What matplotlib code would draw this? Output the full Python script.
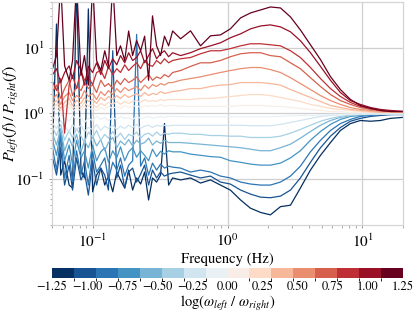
import matplotlib
matplotlib.use("Agg")
import matplotlib.pyplot as plt
import numpy as np
from matplotlib.colors import BoundaryNorm
from matplotlib.cm import ScalarMappable
from matplotlib.ticker import LogLocator, NullFormatter

plt.rcParams["font.family"] = "STIXGeneral"
plt.rcParams["mathtext.fontset"] = "stix"

# frequency axis (Hz)
FREQ = [0.050, 0.054, 0.058, 0.062, 0.067, 0.071, 0.076, 0.082, 0.087, 0.093,
        0.100, 0.107, 0.115, 0.123, 0.131, 0.141, 0.151, 0.161, 0.173, 0.185,
        0.198, 0.212, 0.227, 0.243, 0.260, 0.278, 0.298, 0.319, 0.341, 0.366,
        0.392,
        0.449, 0.532, 0.631, 0.748, 0.887, 1.05, 1.25, 1.48, 1.76, 2.08,
        2.47, 2.93, 3.47, 4.12, 4.89, 5.80, 6.87, 8.15, 9.66, 11.5,
        13.6, 16.1, 20.0]

# log(omega_left / omega_right) of each curve
LOG_OMEGA = [-1.17, -1.02, -0.86, -0.70, -0.55, -0.39, -0.23, -0.08,
             0.08, 0.23, 0.39, 0.55, 0.70, 0.86, 1.02, 1.17]

# P_left / P_right, one list per curve
RATIO_M117 = [0.163, 23, 0.115, 0.19, 0.081, 0.073, 100, 0.137, 0.104, 39,
              0.064, 0.115, 0.147, 0.081, 0.111, 0.064, 0.128, 0.097, 0.073, 0.137,
              0.068, 0.104, 0.084, 0.128, 0.048, 0.104, 0.090, 0.115, 0.70, 0.081,
              0.104,
              0.097, 0.104, 0.087, 0.097, 0.081, 0.068, 0.048, 0.036, 0.031, 0.0285,
              0.038, 0.040, 0.073, 0.137, 0.23, 0.36, 0.55, 0.70, 0.78, 0.76,
              0.78, 0.84, 0.87]
RATIO_M102 = [0.23, 0.115, 0.30, 0.081, 0.163, 0.068, 0.21, 0.097, 0.128, 0.057,
              0.19, 0.081, 0.147, 0.115, 0.068, 9.0, 0.104, 0.163, 0.073, 0.128,
              0.147, 0.090, 0.119, 0.163, 0.081, 0.137, 0.104, 0.128, 0.111, 0.119,
              0.123,
              0.128, 0.115, 0.104, 0.111, 0.090, 0.084, 0.068, 0.059, 0.053, 0.052,
              0.055, 0.068, 0.104, 0.18, 0.30, 0.45, 0.61, 0.76, 0.84, 0.90,
              0.93, 0.96, 0.96]
RATIO_M086 = [0.33, 0.137, 0.46, 0.104, 0.23, 0.090, 0.27, 0.115, 0.19, 0.081,
              0.26, 0.128, 0.163, 0.21, 0.097, 0.18, 0.137, 0.21, 0.111, 0.163,
              0.19, 16, 0.157, 0.21, 0.115, 0.175, 0.137, 0.169, 0.147, 0.157,
              0.152,
              0.147, 0.128, 0.137, 0.128, 0.111, 0.104, 0.090, 0.084, 0.081, 0.081,
              0.090, 0.111, 0.157, 0.26, 0.39, 0.55, 0.70, 0.81, 0.90, 0.93,
              0.96, 0.96, 0.98]
RATIO_M070 = [0.42, 0.23, 0.55, 0.19, 0.33, 0.163, 0.39, 0.21, 0.27, 0.147,
              0.33, 0.19, 0.26, 0.30, 0.18, 0.27, 0.21, 0.31, 0.19, 0.26,
              0.30, 0.215, 0.27, 0.23, 0.19, 0.285, 0.22, 0.265, 0.24, 0.27,
              0.26,
              0.26, 0.24, 0.23, 0.22, 0.215, 0.19, 0.18, 0.169, 0.163, 0.163,
              0.175, 0.21, 0.27, 0.39, 0.53, 0.68, 0.81, 0.90, 0.93, 0.96,
              0.96, 0.98, 0.98]
RATIO_M055 = [0.52, 0.33, 0.59, 0.27, 0.42, 0.31, 0.48, 0.26, 0.38, 0.30,
              0.45, 0.32, 0.40, 0.27, 0.36, 0.43, 0.30, 0.38, 0.33, 0.40,
              0.32, 0.39, 0.34, 0.36, 0.42, 0.33, 0.38, 0.35, 0.39, 0.36,
              0.36,
              0.36, 0.35, 0.34, 0.33, 0.32, 0.31, 0.30, 0.285, 0.27, 0.27,
              0.30, 0.34, 0.42, 0.53, 0.66, 0.78, 0.87, 0.93, 0.96, 0.96,
              0.98, 0.98, 0.98]
RATIO_M039 = [0.64, 0.46, 0.68, 0.39, 0.55, 0.42, 0.59, 0.45, 0.36, 0.52,
              0.43, 0.55, 0.39, 0.48, 0.42, 0.53, 0.43, 0.50, 0.40, 0.48,
              0.45, 0.52, 0.42, 0.48, 0.50, 0.45, 0.52, 0.46, 0.50, 0.48,
              0.50,
              0.50, 0.48, 0.48, 0.46, 0.46, 0.45, 0.45, 0.43, 0.43, 0.43,
              0.45, 0.50, 0.57, 0.66, 0.76, 0.84, 0.90, 0.93, 0.96, 0.98,
              0.98, 0.98, 0.98]
RATIO_M023 = [0.73, 0.59, 0.78, 0.64, 0.52, 0.68, 0.57, 0.66, 0.53, 0.61,
              0.57, 0.68, 0.55, 0.64, 0.59, 0.66, 0.57, 0.64, 0.59, 0.66,
              0.61, 0.68, 0.59, 0.64, 0.66, 0.61, 0.66, 0.64, 0.66, 0.64,
              0.66,
              0.66, 0.66, 0.66, 0.66, 0.66, 0.66, 0.66, 0.65, 0.65, 0.65,
              0.68, 0.73, 0.78, 0.84, 0.90, 0.93, 0.96, 0.98, 0.98, 0.99,
              0.99, 0.99, 0.99]
RATIO_M008 = [0.90, 0.78, 0.97, 0.84, 0.76, 0.93, 0.81, 0.87, 0.73, 0.84,
              0.78, 0.90, 0.81, 0.87, 0.78, 0.87, 0.81, 0.90, 0.84, 0.87,
              0.81, 0.90, 0.84, 0.87, 0.90, 0.84, 0.87, 0.90, 0.87, 0.90,
              0.90,
              0.89, 0.89, 0.89, 0.89, 0.89, 0.89, 0.89, 0.89, 0.89, 0.89,
              0.90, 0.92, 0.93, 0.93, 0.95, 0.965, 0.965, 0.98, 0.98, 0.98,
              0.98, 0.98, 0.98]
RATIO_P008 = [1.07, 1.19, 1.0, 1.15, 1.23, 1.07, 1.19, 1.11, 1.28, 1.15,
              1.19, 1.11, 1.23, 1.15, 1.28, 1.19, 1.28, 1.19, 1.32, 1.23,
              1.28, 1.32, 1.23, 1.32, 1.28, 1.32, 1.28, 1.37, 1.28, 1.32,
              1.32,
              1.28, 1.28, 1.28, 1.28, 1.28, 1.28, 1.32, 1.32, 1.32, 1.28,
              1.28, 1.23, 1.19, 1.15, 1.11, 1.07, 1.07, 1.035, 1.035, 1.035,
              1.035, 1.035, 1.035]
RATIO_P023 = [1.19, 1.37, 1.11, 1.28, 1.42, 1.19, 1.32, 1.23, 1.47, 1.28,
              1.37, 1.23, 1.42, 1.32, 1.47, 1.37, 1.52, 1.37, 1.52, 1.42,
              1.52, 1.57, 1.47, 1.63, 1.52, 1.57, 1.52, 1.63, 1.57, 1.63,
              1.63,
              1.63, 1.63, 1.69, 1.69, 1.75, 1.81, 1.87, 1.94, 1.94, 1.87,
              1.75, 1.63, 1.52, 1.37, 1.28, 1.19, 1.15, 1.11, 1.07, 1.035,
              1.035, 1.035, 1.035]
RATIO_P039 = [1.37, 1.57, 1.19, 1.47, 1.69, 1.32, 1.57, 1.42, 1.75, 1.52,
              1.63, 1.42, 1.75, 1.57, 1.81, 1.63, 1.87, 1.69, 1.94, 1.75,
              1.87, 2.01, 1.81, 2.08, 1.87, 2.01, 1.94, 2.15, 2.01, 2.08,
              2.15,
              2.23, 2.39, 2.39, 2.57, 2.7, 2.75, 2.95, 2.95, 2.95, 2.85,
              2.7, 2.31, 2.01, 1.75, 1.52, 1.32, 1.23, 1.15, 1.11, 1.07,
              1.035, 1.035, 1.035]
RATIO_P055 = [1.57, 1.94, 1.37, 1.81, 2.08, 1.57, 1.87, 1.69, 2.23, 1.81,
              2.01, 1.63, 2.15, 1.87, 2.23, 1.94, 2.39, 2.08, 2.48, 2.23,
              2.39, 2.57, 2.23, 2.7, 2.39, 2.75, 2.57, 2.85, 2.7, 2.95,
              2.95,
              3.2, 3.4, 3.6, 3.9, 4.2, 4.5, 4.8, 5.0, 5.0, 4.65,
              4.2, 3.5, 2.85, 2.31, 1.87, 1.57, 1.37, 1.23, 1.15, 1.11,
              1.07, 1.07, 1.035]
RATIO_P070 = [2.08, 2.7, 1.69, 2.39, 3.2, 1.87, 2.57, 2.23, 2.95, 2.39,
              2.75, 2.08, 3.2, 2.57, 2.85, 2.39, 3.2, 2.75, 3.4, 2.95,
              3.2, 3.6, 2.95, 3.4, 3.9, 3.2, 3.6, 3.4, 3.9, 3.6,
              4.2,
              4.5, 5.2, 5.9, 5.9, 6.4, 7.3, 8.1, 8.4, 8.4, 7.6,
              7.3, 5.9, 4.8, 3.5, 2.57, 1.94, 1.57, 1.37, 1.23, 1.15,
              1.11, 1.07, 1.07]
RATIO_P086 = [3.2, 2.23, 3.4, 0.50, 2.7, 3.8, 2.39, 4.5, 3.2, 3.6,
              2.75, 4.2, 4.5, 3.4, 5.2, 3.9, 4.8, 4.2, 5.5, 4.5,
              5.2, 5.9, 4.8, 6.4, 5.5, 5.2, 6.4, 5.7, 6.8, 5.9,
              6.4,
              6.8, 7.1, 8.1, 9.0, 9.0, 9.7, 10.7, 11.5, 11.5, 11.1,
              10.7, 9.0, 7.1, 5.0, 3.4, 2.39, 1.81, 1.47, 1.28, 1.19,
              1.11, 1.07, 1.07]
RATIO_P102 = [3.8, 4.8, 2.95, 4.2, 5.3, 3.4, 6.4, 4.5, 2.7, 5.2,
              4.2, 5.9, 3.9, 6.4, 4.8, 6.8, 5.5, 7.6, 5.9, 8.4,
              6.4, 7.1, 9.0, 5.9, 7.6, 9.7, 6.8, 8.1, 9.0, 7.3,
              8.4,
              7.6, 8.4, 9.7, 10.7, 11.9, 14.2, 16.3, 19.4, 21.5, 22.3,
              20.8, 17.5, 12.8, 8.4, 5.2, 3.2, 2.08, 1.57, 1.37, 1.23,
              1.15, 1.11, 1.07]
RATIO_P117 = [4.5, 7.6, 100, 5.3, 3.2, 6.4, 100, 3.8, 7.6, 2.7,
              100, 6.4, 4.5, 9.0, 5.3, 100, 7.6, 10.7, 6.4, 18,
              7.6, 12.8, 9.0, 15, 3.2, 30.6, 10.7, 7.6, 15, 10.7,
              18,
              13.7, 18.1, 10.7, 15.2, 15.7, 19.4, 28.5, 33.9, 37.7, 41.8,
              40.4, 29.5, 18.7, 11.1, 6.6, 3.63, 2.31, 1.63, 1.32, 1.19,
              1.11, 1.07, 1.07]

RATIOS = [RATIO_M117, RATIO_M102, RATIO_M086, RATIO_M070,
          RATIO_M055, RATIO_M039, RATIO_M023, RATIO_M008,
          RATIO_P008, RATIO_P023, RATIO_P039, RATIO_P055,
          RATIO_P070, RATIO_P086, RATIO_P102, RATIO_P117]

CBAR_TICKS = [-1.25, -1.00, -0.75, -0.50, -0.25, 0.00, 0.25, 0.50, 0.75, 1.00, 1.25]


def main():
    fig = plt.figure(figsize=(4.15, 3.12), dpi=100)
    ax = fig.add_axes([0.1253, 0.279, 0.8458, 0.715])
    cax = fig.add_axes([0.1253, 0.109, 0.8458, 0.032])

    bounds = np.linspace(-1.25, 1.25, 17)
    cmap = plt.get_cmap("RdBu_r", 16)
    norm = BoundaryNorm(bounds, cmap.N)

    for lw_val, ratio in zip(LOG_OMEGA, RATIOS):
        ax.plot(FREQ, ratio, color=cmap(norm(lw_val)), lw=0.9)

    ax.set_xscale("log")
    ax.set_yscale("log")
    ax.set_xlim(0.05, 20)
    ax.set_ylim(0.02, 50)

    ax.grid(True, which="major", color="#cfcfcf", lw=0.9)
    ax.set_axisbelow(True)
    for sp in ax.spines.values():
        sp.set_color("#d5d5d5")
        sp.set_linewidth(0.9)
    ax.xaxis.set_minor_locator(LogLocator(base=10, subs=np.arange(2, 10)))
    ax.yaxis.set_minor_locator(LogLocator(base=10, subs=np.arange(2, 10)))
    ax.xaxis.set_minor_formatter(NullFormatter())
    ax.yaxis.set_minor_formatter(NullFormatter())
    ax.tick_params(which="major", length=2.5, width=0.6, color="#888888",
                   labelsize=11, pad=3)
    ax.tick_params(which="minor", length=1.8, width=0.5, color="#888888")

    ax.set_xlabel("Frequency (Hz)", fontsize=10.5, labelpad=2)
    ax.set_ylabel(r"$P_{left}(f)\,/\,P_{right}(f)$", fontsize=11.5)
    ax.yaxis.set_label_coords(-0.088, 0.5)

    sm = ScalarMappable(norm=norm, cmap=cmap)
    cb = fig.colorbar(sm, cax=cax, orientation="horizontal", ticks=CBAR_TICKS)
    cb.outline.set_visible(False)
    cb.ax.set_xticklabels([f"{t:.2f}".replace("-", "\u2212") for t in CBAR_TICKS])
    cb.ax.tick_params(length=0, labelsize=9, pad=2)
    cb.set_label(r"$\log(\omega_{left}\ /\ \omega_{right})$", fontsize=10.5, labelpad=1)

    fig.savefig("out.png", dpi=100)
    plt.close(fig)


if __name__ == "__main__":
    main()
